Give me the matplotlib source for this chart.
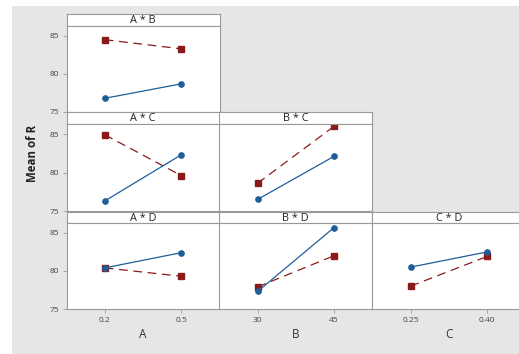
import matplotlib.pyplot as plt
from matplotlib.patches import Rectangle

plt.rcParams["font.family"] = ["Open Sans", "DejaVu Sans"]

# ---------------------------------------------------------
# data
# ---------------------------------------------------------
a_labels = ["0.2", "0.5"]
b_labels = ["30", "45"]
c_labels = ["0.25", "0.40"]

# blue = first level (solid, circles), red = second level (dashed, squares)
ab_blue = [76.8, 78.7]
ab_red = [84.5, 83.3]
ac_blue = [76.3, 82.3]
ac_red = [84.9, 79.6]
bc_blue = [76.5, 82.1]
bc_red = [78.6, 86.0]
ad_blue = [80.4, 82.4]
ad_red = [80.4, 79.3]
bd_blue = [77.3, 85.7]
bd_red = [77.9, 82.0]
cd_blue = [80.5, 82.5]
cd_red = [78.0, 81.9]

y_ticks = [75, 80, 85]

W, H = 519, 354
BLUE = "#1f5d9a"
RED = "#8b1a1a"
GREY_BG = "#e6e6e6"
EDGE = "#9a9a9a"

fig = plt.figure(figsize=(W / 100, H / 100), dpi=100, facecolor="white")
fig.patches.append(Rectangle((12 / W, 0), 1, 1 - 6 / H, transform=fig.transFigure,
                             facecolor=GREY_BG, edgecolor="none", zorder=-5))

col_x = [66.5, 219.3, 372.3]
col_w = 153.0
rows = [(14, 26, 112), (112, 124, 211), (212, 223, 309)]  # strip top, plot top, plot bottom


def px_axes(x0, top, bottom, w):
    return fig.add_axes([x0 / W, 1 - bottom / H, w / W, (bottom - top) / H])


panels = [
    (0, 0, "A * B", ab_blue, ab_red, a_labels),
    (1, 0, "A * C", ac_blue, ac_red, a_labels),
    (1, 1, "B * C", bc_blue, bc_red, b_labels),
    (2, 0, "A * D", ad_blue, ad_red, a_labels),
    (2, 1, "B * D", bd_blue, bd_red, b_labels),
    (2, 2, "C * D", cd_blue, cd_red, c_labels),
]

for r, c, title, blue, red, xlabels in panels:
    s_top, p_top, p_bot = rows[r]
    x0 = col_x[c]

    # strip with the title
    sax = px_axes(x0, s_top, p_top, col_w)
    sax.set_xticks([])
    sax.set_yticks([])
    for sp in sax.spines.values():
        sp.set_color(EDGE)
        sp.set_linewidth(0.8)
    sax.text(0.5, 0.45, title, ha="center", va="center", fontsize=7.8,
             color="#222222", transform=sax.transAxes)

    ax = px_axes(x0, p_top, p_bot, col_w)
    ax.plot([0, 1], blue, color=BLUE, lw=0.9, marker="o", ms=3.8, zorder=3)
    ax.plot([0, 1], red, color=RED, lw=0.9, ls=(0, (7, 4.5)), marker="s", ms=4, zorder=2)
    ax.set_xlim(-0.5, 1.5)
    ax.set_ylim(75, 86.3)
    for sp in ax.spines.values():
        sp.set_color(EDGE)
        sp.set_linewidth(0.8)

    if c == 0:
        ax.set_yticks(y_ticks)
        ax.tick_params(axis="y", labelsize=6, colors=EDGE, labelcolor="#444444",
                       length=3, width=0.6, pad=2)
    else:
        ax.set_yticks([])

    if r == 2:
        ax.set_xticks([0, 1])
        ax.set_xticklabels(xlabels)
        ax.tick_params(axis="x", labelsize=6, colors=EDGE, labelcolor="#444444",
                       length=3, width=0.6, pad=3)
        ax.set_xlabel(title[0], fontsize=8.5, color="#333333", labelpad=3)
    else:
        ax.set_xticks([])

fig.text(33 / W, 1 - 153 / H, "Mean of R", rotation=90, ha="center", va="center",
         fontsize=8.3, fontweight="bold", color="#222222")

fig.savefig("out.png", dpi=100, facecolor="white")
